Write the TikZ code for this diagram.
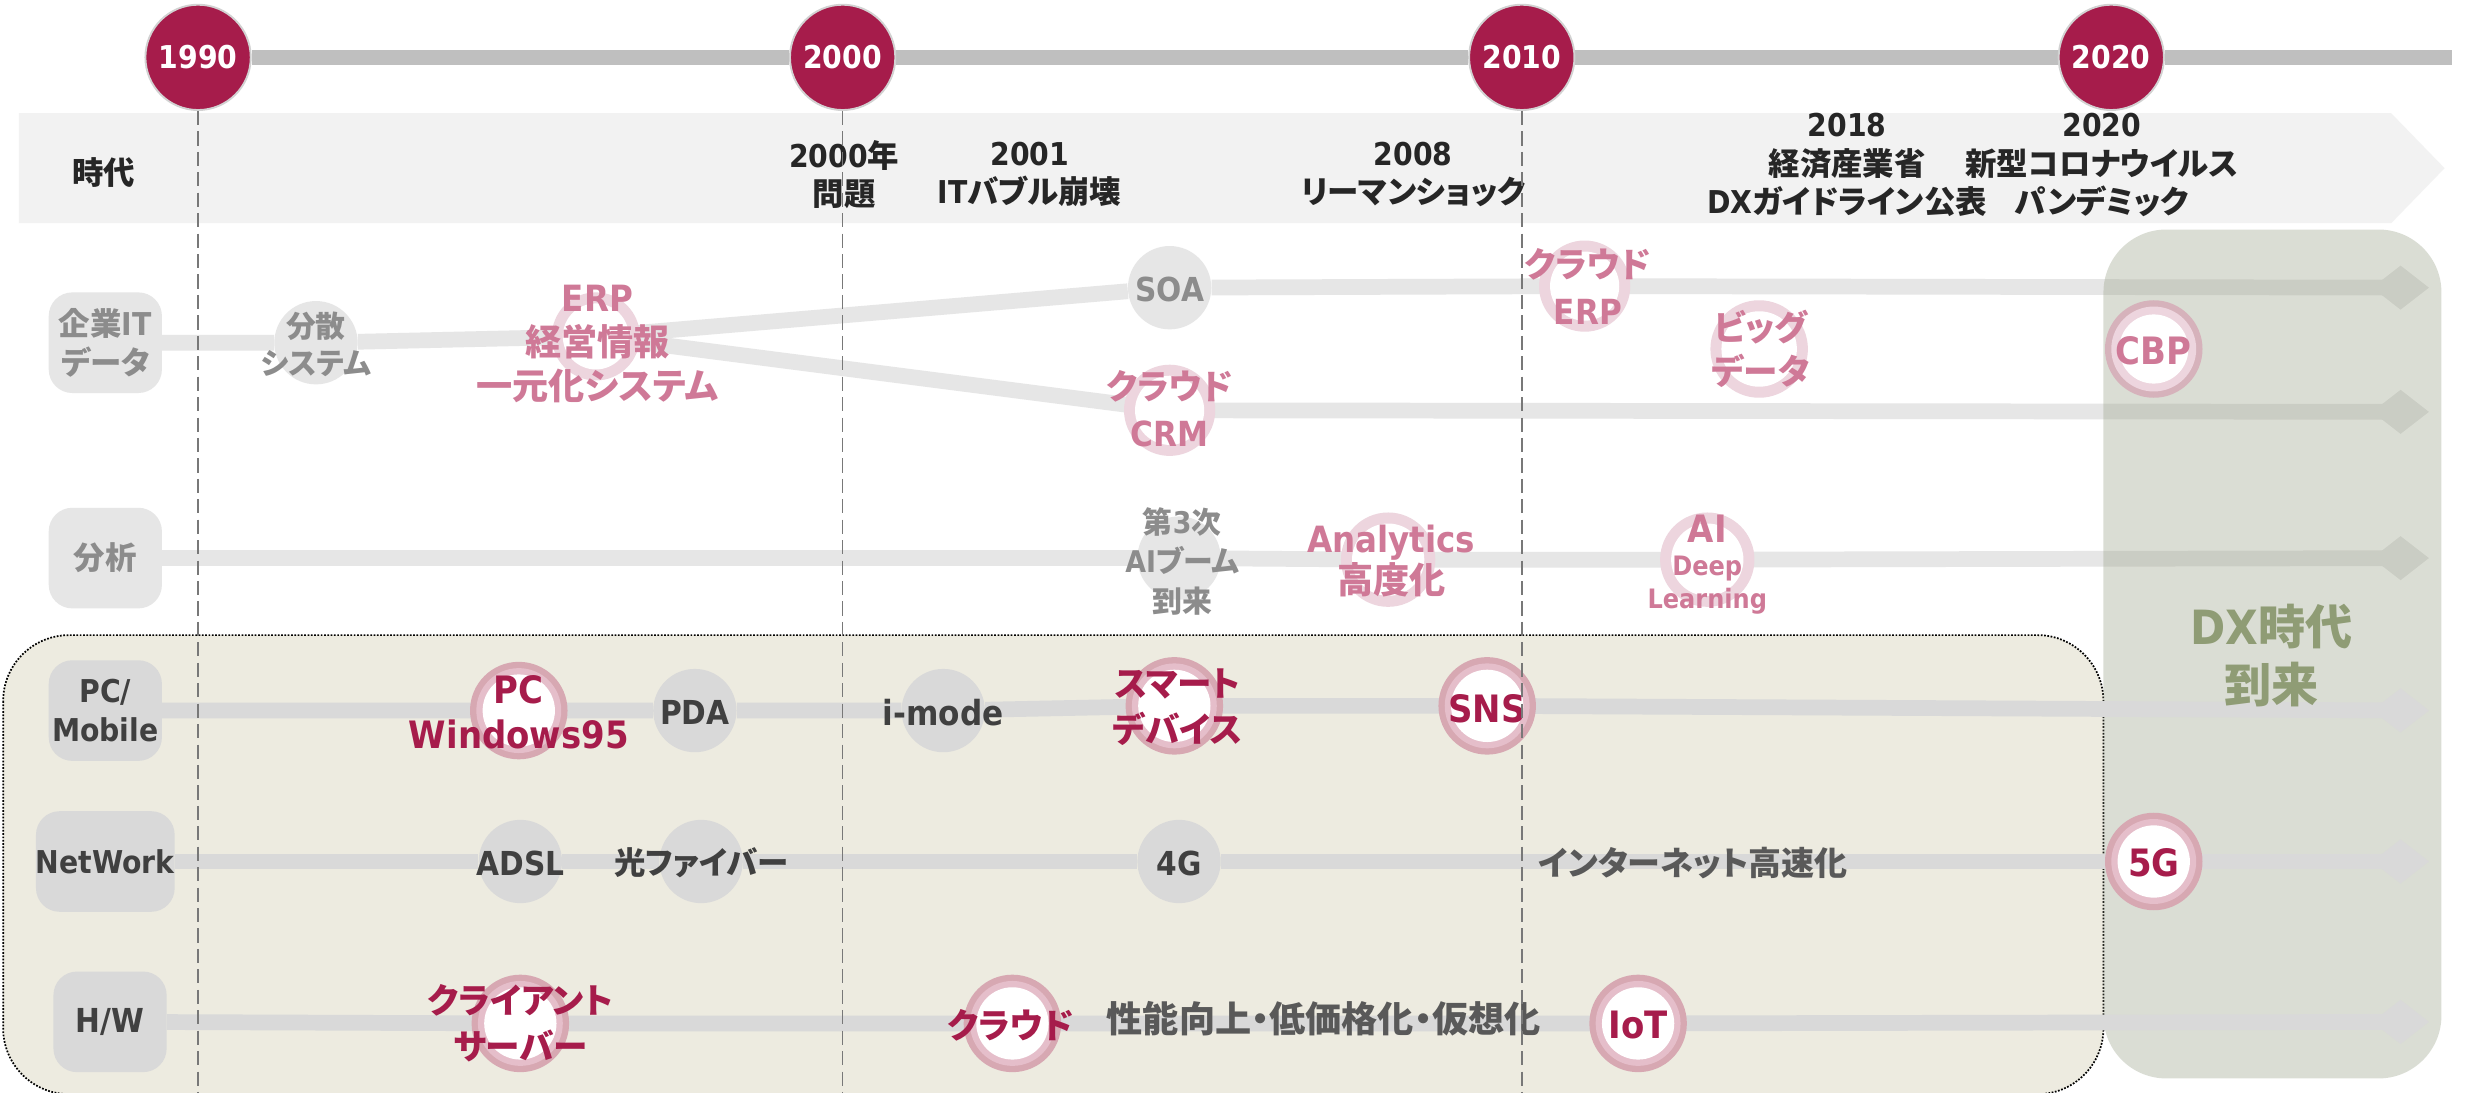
\documentclass[tikz,border=0pt]{standalone}
\usepackage{fontspec}
\setmainfont{Noto Sans CJK JP}[RawFeature={+palt}]
\newfontfamily\lat{DejaVu Sans Condensed}
\usetikzlibrary{arrows.meta}
\pgfdeclarelayer{back}
\pgfdeclarelayer{trkA}
\pgfdeclarelayer{grn}
\pgfdeclarelayer{trkB}
\pgfdeclarelayer{front}
\pgfsetlayers{back,trkA,grn,trkB,main,front}
\definecolor{crim}{RGB}{166,28,75}
\definecolor{ringO}{RGB}{215,168,178}
\definecolor{ringI}{RGB}{229,190,202}
\definecolor{fadeR}{RGB}{237,213,222}
\definecolor{fadeT}{RGB}{207,121,151}
\definecolor{cbpO}{RGB}{214,178,187}
\definecolor{gU}{RGB}{230,230,230}
\definecolor{tU}{RGB}{140,140,140}
\definecolor{gL}{RGB}{217,217,217}
\definecolor{tL}{RGB}{64,64,64}
\definecolor{tF}{RGB}{89,89,89}
\definecolor{bandc}{RGB}{242,242,242}
\definecolor{tanc}{RGB}{237,235,224}
\definecolor{dxc}{RGB}{143,156,117}
\definecolor{grnc}{RGB}{155,163,138}
\definecolor{barc}{RGB}{191,191,191}
\definecolor{hdr}{RGB}{38,38,38}
\definecolor{dashc}{RGB}{120,120,120}
\newcommand\fsz[2]{\fontsize{#1}{#2}\selectfont\bfseries}
\begin{document}
\begin{tikzpicture}[x=1pt,y=-1pt,
  yearc/.style={circle,fill=crim,draw=barc!70!white,line width=1.2pt,minimum size=67pt,inner sep=0pt,text=white,font=\lat\fsz{20}{24}},
  lab/.style={rectangle,rounded corners=15pt,minimum width=72pt,minimum height=64pt,inner sep=0pt,align=center},
  labU/.style={lab,fill=gU,text=tU},
  labL/.style={lab,fill=gL,text=tL},
  gcU/.style={circle,minimum size=53pt,inner sep=0pt,fill=gU},
  gcL/.style={circle,minimum size=53pt,inner sep=0pt,fill=gL},
  sring/.style={circle,minimum size=46pt,inner sep=0pt,fill=white,preaction={draw=ringO,line width=16pt},preaction={draw=ringI,line width=8pt}},
  fring/.style={circle,minimum size=44pt,inner sep=0pt,fill=white,preaction={draw=fadeR,line width=14pt}},
  cring/.style={circle,minimum size=44pt,inner sep=0pt,fill=white,preaction={draw=cbpO,line width=18pt},preaction={draw=fadeR,line width=10pt}},
  tx/.style={align=center,inner sep=0pt},
  txS/.style={tx,text=crim},
  txF/.style={tx,text=fadeT},
  txU/.style={tx,text=tU},
  txL/.style={tx,text=tL},
  txH/.style={tx,text=hdr,font=\fsz{20}{24.5}},
  trkU/.style={line width=10pt,draw=gU},
  trkL/.style={line width=10pt,draw=gL},
  arrowend/.style={-{Kite[length=36pt,width=28pt,inset=18pt,line width=0.5pt]}},
  dline/.style={draw=dashc,line width=1pt,dash pattern=on 9pt off 4pt}
]
\useasboundingbox (0,0) rectangle (1568,695);

% ---------- background shapes ----------
\begin{pgfonlayer}{back}
  \fill[white] (0,0) rectangle (1568,695);
  \fill[bandc] (12,72) -- (1521,72) -- (1555,107) -- (1521,142) -- (12,142) -- cycle;
  \draw[fill=tanc,draw=black,line width=1.1pt,densely dotted,rounded corners=42pt] (2,404) rectangle (1338,696);
\end{pgfonlayer}
\begin{pgfonlayer}{grn}
  \fill[grnc,fill opacity=0.36,rounded corners=40pt] (1338,146) rectangle (1553,686);
\end{pgfonlayer}

% ---------- year circles ----------
\node[yearc] (y1990) at (126,36.5) {1990};
\node[yearc] (y2000) at (536,36.5) {2000};
\node[yearc] (y2010) at (968,36.5) {2010};
\node[yearc] (y2020) at (1343,36.5) {2020};
\coordinate (barend) at (1560,36.5);

% ---------- header band texts ----------
\node[txH] (jidai) at (66,110) {時代};
\node[txH] (h2000) at (537,111) {{\lat 2000}年\\問題};
\node[txH] (h2001) at (655,111) {{\lat 2001}\\{\lat IT}バブル崩壊};
\node[txH] (h2008) at (899,111) {{\lat 2008}\\リーマンショック};
\node[txH] (h2018) at (1175,105) {{\lat 2018}\\経済産業省\\{\lat DX}ガイドライン公表};
\node[txH] (h2020) at (1337,105) {{\lat 2020}\\新型コロナウイルス\\パンデミック};

% ---------- upper rows ----------
\node[labU,font=\fsz{20}{25}] (lk) at (67,218) {企業{\lat IT}\\データ};
\node[labU,font=\fsz{20}{25}] (lb) at (67,355) {分析};

\node[gcU] (bunsan) at (201,218) {};
\node[txU,font=\fsz{19}{24}] (bunsan-t) at (201,219) {分散\\システム};
\node[fring,minimum size=42pt] (erp) at (379,214) {};
\node[txF,font=\fsz{23}{28}] (erp-t) at (380,219) {{\lat ERP}\\経営情報\\一元化システム};
\node[gcU] (soa) at (744,183) {};
\node[txU,font=\lat\fsz{21}{25}] (soa-t) at (744,184) {SOA};
\node[fring] (crm) at (744,261) {};
\node[txF,font=\fsz{22}{30}] (crm-t) at (744,260) {クラウド\\{\lat CRM}};
\node[fring] (cerp) at (1008,182) {};
\node[txF,font=\fsz{22}{30}] (cerp-t) at (1010,182) {クラウド\\{\lat ERP}};
\node[fring,minimum size=48pt] (big) at (1119,222) {};
\node[txF,font=\fsz{22}{28}] (big-t) at (1120,222) {ビッグ\\データ};
\node[cring] (cbp) at (1370,222) {};
\node[txF,font=\lat\fsz{24}{28}] (cbp-t) at (1370,223) {CBP};

\node[gcU] (ai3) at (750,355) {};
\node[txU,font=\fsz{19}{25}] (ai3-t) at (752,357) {第{\lat 3}次\\{\lat AI}ブーム\\到来};
\node[fring,minimum size=46pt] (ana) at (883,356) {};
\node[txF,font=\fsz{23}{26}] (ana-t) at (885,357) {{\lat Analytics}\\高度化};
\node[fring,minimum size=46pt] (aidl) at (1086,356) {};
\node[txF,font=\lat\fsz{17}{21}] (aidl-t) at (1086,359) {{\fsz{24}{21}AI}\\Deep\\Learning};

% ---------- lower rows ----------
\node[labL,font=\lat\fsz{20}{25}] (lp) at (67,452) {PC/\\Mobile};
\node[labL,font=\lat\fsz{20}{25}] (ln) at (67,548) {NetWork};
\node[labL,font=\lat\fsz{21}{25}] (lh) at (70,650) {H/W};

\node[sring] (pc) at (330,452) {};
\node[txS,font=\lat\fsz{24}{29}] (pc-t) at (330,453) {PC\\Windows95};
\node[gcL] (pda) at (442,452) {};
\node[txL,font=\lat\fsz{21}{25}] (pda-t) at (442,453) {PDA};
\node[gcL] (imode) at (600,452) {};
\node[txL,font=\lat\fsz{22}{25}] (imode-t) at (600,453) {i-mode};
\node[sring] (smart) at (747,449) {};
\node[txS,font=\fsz{22}{29}] (smart-t) at (749,450) {スマート\\デバイス};
\node[sring] (sns) at (946,449) {};
\node[txS,font=\lat\fsz{24}{28}] (sns-t) at (946,451) {SNS};

\node[gcL] (adsl) at (331,548) {};
\node[txL,font=\lat\fsz{21}{25}] (adsl-t) at (331,549) {ADSL};
\node[gcL] (hikari) at (446,548) {};
\node[txL,font=\fsz{20}{25}] (hikari-t) at (446,549) {光ファイバー};
\node[gcL] (g4) at (750,548) {};
\node[txL,font=\lat\fsz{21}{25}] (g4-t) at (750,549) {4G};
\node[tx,text=tF,font=\fsz{21}{25}] (inet) at (1077,549) {インターネット高速化};
\node[sring] (g5) at (1370,548) {};
\node[txS,font=\lat\fsz{24}{28}] (g5-t) at (1370,549) {5G};

\node[sring] (cs) at (331,651) {};
\node[txS,font=\fsz{22}{29}] (cs-t) at (331,651) {クライアント\\サーバー};
\node[sring] (cloud) at (644,651) {};
\node[txS,font=\fsz{22}{26}] (cloud-t) at (643,652) {クラウド};
\node[tx,text=tF,font=\fsz{23}{26}] (perf) at (842,648) {性能向上・低価格化・仮想化};
\node[sring] (iot) at (1042,651) {};
\node[txS,font=\lat\fsz{24}{28}] (iot-t) at (1042,652) {IoT};

% DX label
\node[tx,text=dxc,font=\fsz{30}{37}] (dx) at (1445,417) {{\lat DX}時代\\到来};

% ---------- track end coordinates ----------
\coordinate (e1) at (1545,183);
\coordinate (e2) at (1545,262);
\coordinate (e3) at (1545,355);
\coordinate (e4) at (1545,452);
\coordinate (e5) at (1545,548);
\coordinate (e6) at (1545,650);

% ---------- connectors ----------
\begin{pgfonlayer}{back}
  \draw[barc,line width=9.5pt] (y1990) -- (y2000) -- (y2010) -- (y2020) -- (barend);
\end{pgfonlayer}
\begin{pgfonlayer}{trkA}
  \draw[trkU] (lk) -- (bunsan) -- (erp);
  \draw[trkU,arrowend] (erp) -- (soa) -- (cerp) -- (e1);
  \draw[trkU,arrowend] (erp) -- (crm) -- (e2);
  \draw[trkU,arrowend] (lb) -- (ai3) -- (ana) -- (aidl) -- (e3);
\end{pgfonlayer}
\begin{pgfonlayer}{trkB}
  \draw[trkL,arrowend] (lp) -- (pc) -- (pda) -- (imode) -- (smart) -- (sns) -- (e4);
  \draw[trkL,arrowend] (ln) -- (adsl) -- (hikari) -- (g4) -- (g5) -- (e5);
  \draw[trkL,arrowend] (lh) -- (cs) -- (cloud) -- (iot) -- (e6);
\end{pgfonlayer}

% ---------- dashed year lines ----------
\coordinate (d1990) at (126,696);
\coordinate (d2000) at (536,696);
\coordinate (d2010) at (968,696);
\begin{pgfonlayer}{front}
  \draw[dline] (y1990.south) -- (d1990);
  \draw[dline] (y2000.south) -- (d2000);
  \draw[dline] (y2010.south) -- (d2010);
\end{pgfonlayer}
\end{tikzpicture}
\end{document}
